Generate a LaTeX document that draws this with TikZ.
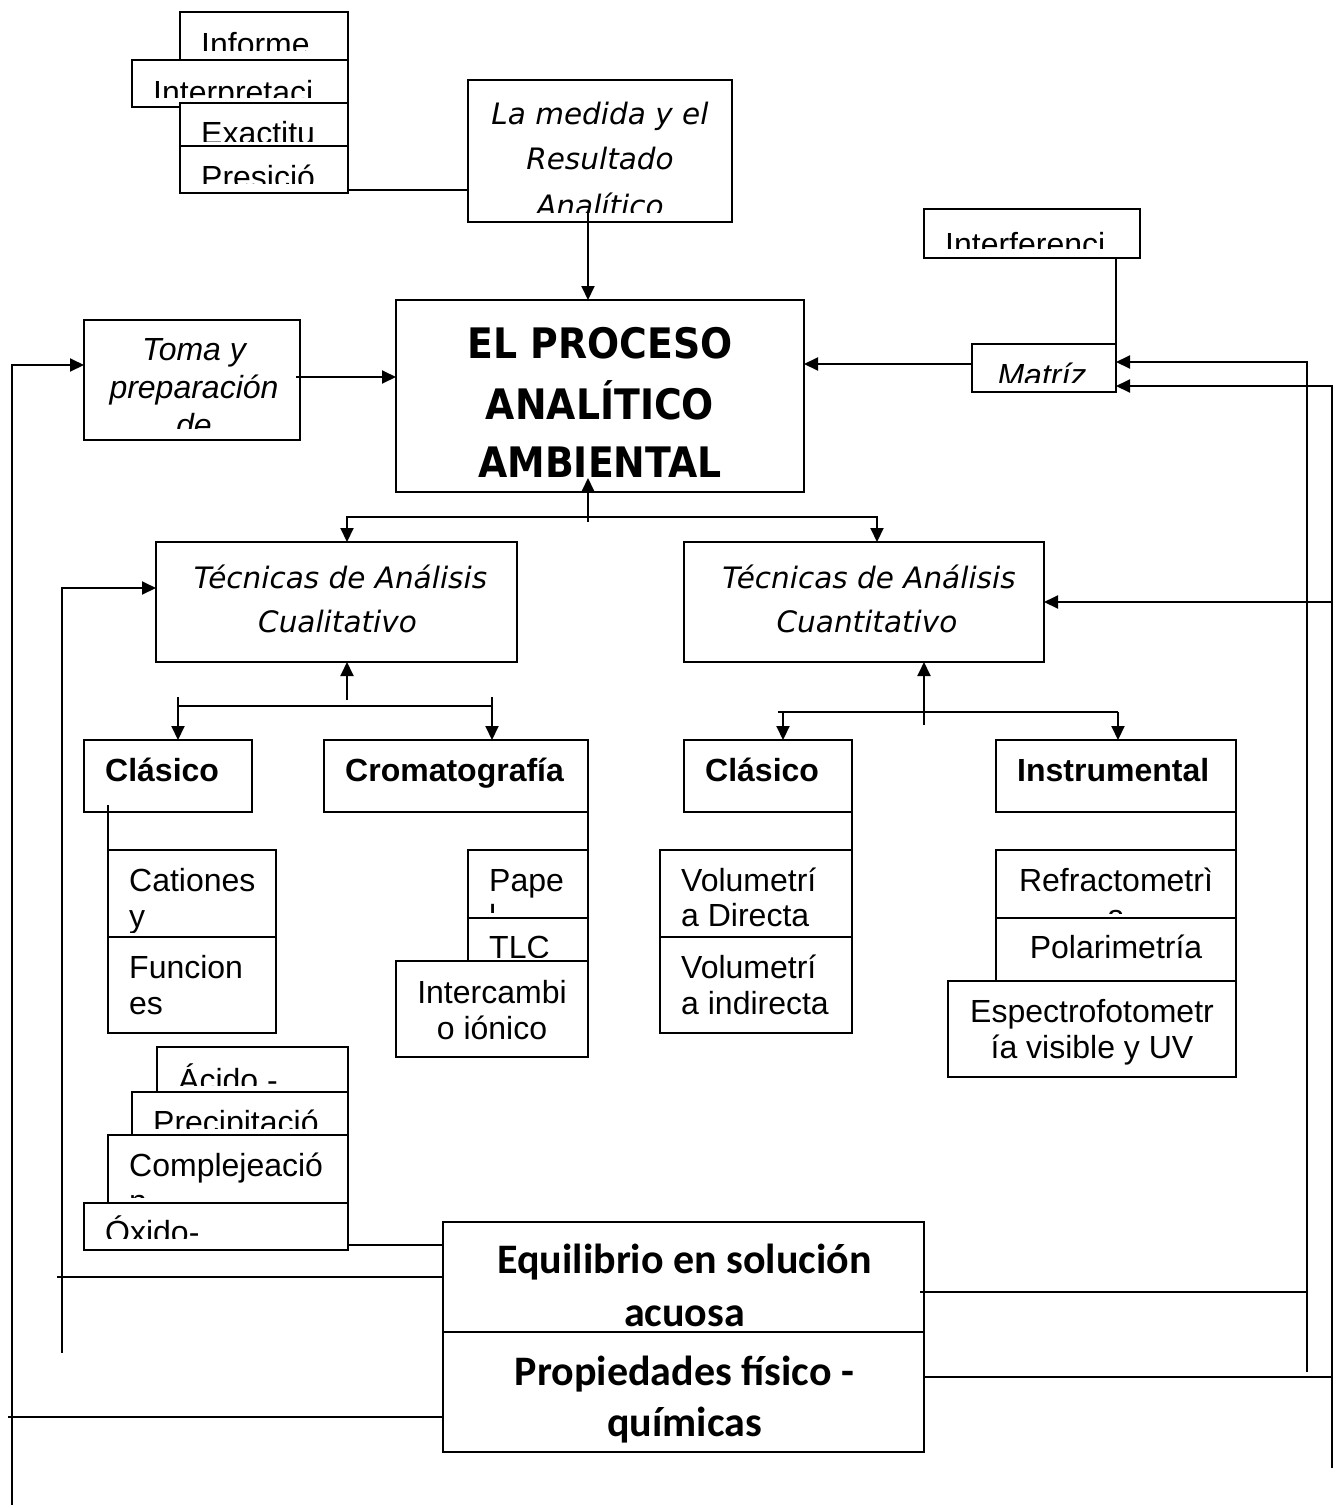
\documentclass[tikz,border=0pt]{standalone}
\usepackage{fontspec}
\setmainfont{Liberation Sans}
\newfontfamily\arialf{Liberation Sans}
\newfontfamily\calf{Carlito}
\newfontfamily\comf{DejaVu Sans}
\newfontfamily\headf[FakeStretch=0.9]{DejaVu Sans}
\usetikzlibrary{arrows.meta}

\tikzset{
 bxs/.style={draw,fill=white,line width=2pt,inner sep=0pt,outer sep=0pt,rectangle},
 ln/.style={line width=2pt},
 arr/.style={ln,-{Triangle[length=14pt,width=13pt]}},
 arr2/.style={ln,{Triangle[length=14pt,width=13pt]}-{Triangle[length=14pt,width=13pt]}},
 ar/.style={font=\arialf\fontsize{32}{36}\selectfont},
 arb/.style={font=\arialf\bfseries\fontsize{32}{36}\selectfont},
 ari/.style={font=\arialf\itshape\fontsize{32}{36}\selectfont},
 cmi/.style={font=\comf\itshape\fontsize{29.5}{40}\selectfont},
 cmb/.style={font=\headf\bfseries\fontsize{42}{50}\selectfont},
 cb/.style={font=\calf\bfseries\fontsize{42}{50}\selectfont},
}

% box: [clip inset]{name}{x1}{y1}{x2}{y2}{text lines}
\newcommand\BX[7][10]{%
  \node[bxs,minimum width={(#5-#3)*1pt},minimum height={(#6-#4)*1pt}] (#2) at ({(#3+#5)/2},{(#4+#6)/2}) {};
  \begin{scope}
    \clip ([yshift=#1pt]#2.south west) rectangle (#2.north east);
    #7
  \end{scope}}
% left-aligned line: {box}{id}{dy}{style}{text}
\newcommand\BoxTL[5]{\node[#4,anchor=base west,inner sep=0pt] (#1-#2) at ([xshift=21pt,yshift=-#3pt]#1.north west) {#5};}
% centred line: {box}{id}{dx}{dy}{style}{text}
\newcommand\BoxTC[6]{\node[#5,anchor=base,inner sep=0pt] (#1-#2) at ([xshift=#3pt,yshift=-#4pt]#1.north) {#6};}

\begin{document}
\begin{tikzpicture}[x=1pt,y=-1pt]
\fill[white] (0,0) rectangle (1339,1508);
\useasboundingbox (0,0) rectangle (1339,1508);

% ---------- top-left stack ----------
\BX{informe}{180}{12}{348}{60}{\BoxTL{informe}{a}{43}{ar}{Informe}}
\BX{interp}{132}{60}{348}{107}{\BoxTL{interp}{a}{43}{ar}{Interpretaci}}
\BX[11]{exact}{180}{103}{348}{152}{\BoxTL{exact}{a}{41}{ar}{Exactitu}}
\BX{presic}{180}{146}{348}{193}{\BoxTL{presic}{a}{42}{ar}{Presició}}

% ---------- top boxes ----------
\BX{medida}{468}{80}{732}{222}{%
  \BoxTC{medida}{a}{0}{44}{cmi}{La medida y el}%
  \BoxTC{medida}{b}{0}{89}{cmi}{Resultado}%
  \BoxTC{medida}{c}{0}{136}{cmi}{Analítico}}
\BX{interf}{924}{209}{1140}{258}{\BoxTL{interf}{a}{46}{ar}{Interferenci}}
\BX{matriz}{972}{344}{1116}{392}{\BoxTC{matriz}{a}{-2}{42}{ari}{Matríz}}
\BX[12]{toma}{84}{320}{300}{440}{%
  \BoxTC{toma}{a}{2}{40}{ari}{Toma y}%
  \BoxTC{toma}{b}{2}{78}{ari}{preparación}%
  \BoxTC{toma}{c}{2}{116}{ari}{de}}
\BX{main}{396}{300}{804}{492}{%
  \BoxTC{main}{a}{0}{58}{cmb}{EL PROCESO}%
  \BoxTC{main}{b}{0}{119}{cmb}{ANALÍTICO}%
  \BoxTC{main}{c}{0}{177}{cmb}{AMBIENTAL}}

% ---------- techniques ----------
\BX{cual}{156}{542}{517}{662}{%
  \BoxTC{cual}{a}{4}{46}{cmi}{Técnicas de Análisis}%
  \BoxTC{cual}{b}{1}{90}{cmi}{Cualitativo}}
\BX{cuant}{684}{542}{1044}{662}{%
  \BoxTC{cuant}{a}{5}{46}{cmi}{Técnicas de Análisis}%
  \BoxTC{cuant}{b}{3}{90}{cmi}{Cuantitativo}}

\BX{clasL}{84}{740}{252}{812}{\BoxTL{clasL}{a}{41}{arb}{Clásico}}
\BX{cromat}{324}{740}{588}{812}{\BoxTL{cromat}{a}{41}{arb}{Cromatografía}}
\BX{clasR}{684}{740}{852}{812}{\BoxTL{clasR}{a}{41}{arb}{Clásico}}
\BX{instr}{996}{740}{1236}{812}{\BoxTL{instr}{a}{41}{arb}{Instrumental}}

\BX[5]{cationes}{108}{850}{276}{937}{%
  \BoxTL{cationes}{a}{41}{ar}{Cationes}\BoxTL{cationes}{b}{77}{ar}{y}}
\BX{funciones}{108}{937}{276}{1033}{%
  \BoxTL{funciones}{a}{41}{ar}{Funcion}\BoxTL{funciones}{b}{77}{ar}{es}}
\BX[6]{papel}{468}{850}{588}{918}{%
  \BoxTL{papel}{a}{41}{ar}{Pape}\BoxTL{papel}{b}{77}{ar}{l}}
\BX[8]{tlc}{468}{918}{588}{965}{\BoxTL{tlc}{a}{40}{ar}{TLC}}
\BX{interc}{396}{961}{588}{1057}{%
  \BoxTC{interc}{a}{0}{42}{ar}{Intercambi}\BoxTC{interc}{b}{0}{78}{ar}{o iónico}}

\BX{volD}{660}{850}{852}{937}{%
  \BoxTL{volD}{a}{41}{ar}{Volumetrí}\BoxTL{volD}{b}{76}{ar}{a Directa}}
\BX{volI}{660}{937}{852}{1033}{%
  \BoxTL{volI}{a}{41}{ar}{Volumetrí}\BoxTL{volI}{b}{77}{ar}{a indirecta}}
\BX[5]{refr}{996}{850}{1236}{918}{%
  \BoxTC{refr}{a}{0}{41}{ar}{Refractometrì}\BoxTC{refr}{b}{0}{77}{ar}{a}}
\BX{polar}{996}{918}{1236}{985}{\BoxTC{polar}{a}{0}{40}{ar}{Polarimetría}}
\BX{espec}{948}{981}{1236}{1077}{%
  \BoxTC{espec}{a}{0}{41}{ar}{Espectrofotometr}\BoxTC{espec}{b}{0}{77}{ar}{ía visible y UV}}

% ---------- bottom-left stack ----------
\BX{acido}{157}{1047}{348}{1095}{\BoxTL{acido}{a}{44}{ar}{Ácido -}}
\BX{precip}{132}{1092}{348}{1138}{\BoxTL{precip}{a}{41}{ar}{Precipitació}}
\BX{compl}{108}{1135}{348}{1207}{%
  \BoxTL{compl}{a}{41}{ar}{Complejeació}\BoxTL{compl}{b}{77}{ar}{n}}
\BX[12]{oxido}{84}{1203}{348}{1250}{\BoxTL{oxido}{a}{40}{ar}{Óxido-}}

% ---------- bottom boxes ----------
\BX[6]{equil}{443}{1222}{924}{1332}{%
  \BoxTC{equil}{a}{1}{51}{cb}{Equilibrio en solución}\BoxTC{equil}{b}{1}{104}{cb}{acuosa}}
\BX{prop}{443}{1332}{924}{1452}{%
  \BoxTC{prop}{a}{1}{53}{cb}{Propiedades físico -}\BoxTC{prop}{b}{1}{104}{cb}{químicas}}

% ---------- free ends ----------
\coordinate (L1) at (12,1505);
\coordinate (L1e) at (8,1416);
\coordinate (L2) at (62,1353);
\coordinate (L2e) at (57,1277);
\coordinate (R1) at (1307,1372);
\coordinate (R2) at (1332,1468);

% ---------- connectors: top ----------
\draw[ln] ([yshift=-20.5pt]presic.east) -- ([yshift=-20.5pt]presic.east -| medida.west);
\draw[arr] ([xshift=-12pt,yshift=9pt]medida.south) -- ([xshift=-12pt]main.north);
\draw[arr] ([xshift=-4pt,yshift=3pt]toma.east) -- ([yshift=3pt]toma.east -| main.west);
\draw[arr] ([yshift=4pt]matriz.west) -- ([yshift=4pt]matriz.west -| main.east);
\draw[ln] (interf.south -| matriz.north east) -- (matriz.north east);

% main <-> techniques
\draw[arr] ([xshift=-12pt,yshift=-30pt]main.south) -- ([xshift=-12pt,yshift=14pt]main.south);
\draw[arr2] ([xshift=10.5pt]cual.north) -- ++(0,-25) -| ([xshift=13pt]cuant.north);

% qualitative subtree
\draw[arr] ([xshift=10.5pt,yshift=-38pt]cual.south) -- ([xshift=10.5pt]cual.south);
\draw[ln] ([xshift=10pt,yshift=34pt]clasL.north) -- ([xshift=37pt,yshift=34pt]cromat.north);
\draw[arr] ([xshift=10pt,yshift=43pt]clasL.north) -- ([xshift=10pt]clasL.north);
\draw[arr] ([xshift=36pt,yshift=43pt]cromat.north) -- ([xshift=36pt]cromat.north);

% quantitative subtree
\draw[arr] ([xshift=60pt,yshift=-63pt]cuant.south) -- ([xshift=60pt]cuant.south);
\draw[ln] ([xshift=10pt,yshift=28pt]clasR.north) -- ([xshift=2pt,yshift=28pt]instr.north);
\draw[arr] ([xshift=15pt,yshift=28pt]clasR.north) -- ([xshift=15pt]clasR.north);
\draw[arr] ([xshift=2pt,yshift=28pt]instr.north) -- ([xshift=2pt]instr.north);

% children links
\draw[ln] ([xshift=24pt,yshift=7pt]clasL.south west) -- (cationes.north west);
\draw[ln] (cromat.south east) -- (papel.north east);
\draw[ln] (clasR.south east) -- (volD.north east);
\draw[ln] (instr.south east) -- (refr.north east);

% left feedback lines
\draw[arr] (L1) |- ([yshift=15pt]toma.west);
\draw[ln] ([yshift=-24.5pt]prop.west) -- ([yshift=-24.5pt]prop.west -| L1e);
\draw[arr] (L2) |- ([yshift=14pt]cual.west);
\draw[ln] (equil.west) -- (equil.west -| L2e);
\draw[ln] ([yshift=-18.5pt]oxido.east) -- ([yshift=-18.5pt]oxido.east -| equil.west);

% right feedback lines
\draw[arr] (R1) |- ([yshift=6pt]matriz.east);
\draw[ln] ([xshift=-4pt,yshift=-14.5pt]equil.east) -- ([yshift=-14.5pt]equil.east -| R1);
\draw[arr] (R2) |- ([yshift=-18pt]matriz.east);
\draw[ln] ([yshift=15.5pt]prop.east) -- ([yshift=15.5pt]prop.east -| R2);
\draw[arr] (cuant.east -| R2) -- (cuant.east);
\end{tikzpicture}
\end{document}
